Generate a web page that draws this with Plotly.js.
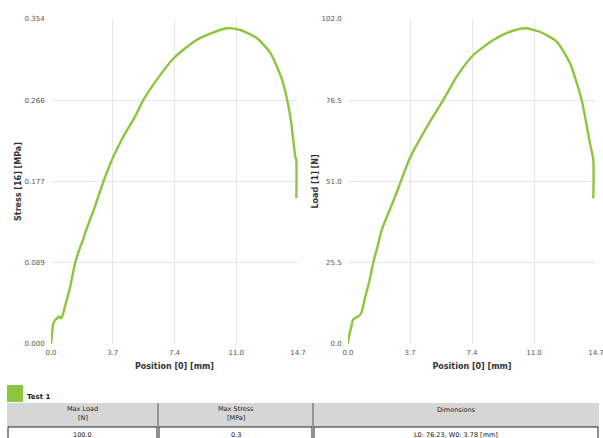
<!DOCTYPE html>
<html>
<head>
<meta charset="utf-8">
<script src="https://cdn.plot.ly/plotly-3.0.1.min.js"></script>
<style>
  html, body { margin: 0; padding: 0; background: #ffffff; }
  #chart { width: 603px; height: 438px; }
</style>
</head>
<body>
<div id="chart"></div>
<script>
// Stress vs. position (test 1)
const positionStress = [0, 0.06, 0.12, 0.24, 0.36, 0.48, 0.60, 0.72, 0.83, 1.13, 1.43, 1.73, 1.92, 2.03, 2.62, 3.12, 3.71, 4.31, 5.01, 5.50, 6.30, 7.29, 8.48, 9.47, 10.47, 11.26, 12.26, 13.05, 13.75, 14.24, 14.54, 14.60, 14.60];
const stressMPa = [0, 0.011, 0.021, 0.026, 0.028, 0.030, 0.028, 0.033, 0.041, 0.061, 0.088, 0.105, 0.114, 0.121, 0.150, 0.177, 0.204, 0.226, 0.248, 0.266, 0.288, 0.311, 0.329, 0.338, 0.344, 0.342, 0.333, 0.317, 0.288, 0.248, 0.204, 0.200, 0.159];

// Load vs. position (test 1)
const positionLoad = [0, 0.02, 0.22, 0.31, 0.52, 0.71, 0.81, 1.01, 1.30, 1.50, 1.80, 2.00, 2.79, 3.68, 4.66, 5.65, 6.44, 7.43, 8.61, 9.60, 10.49, 11.38, 12.37, 13.16, 13.85, 14.34, 14.54, 14.54];
const loadN = [0, 1.3, 6.0, 7.8, 8.4, 9.1, 10.1, 14.5, 20.5, 25.6, 31.6, 35.8, 46.2, 58.5, 68.0, 76.6, 83.9, 90.7, 95.4, 98.0, 99.1, 98.0, 94.9, 88.1, 76.6, 63.0, 57.8, 45.7];

// Axis ticks
const xTickVals = [0, 3.675, 7.35, 11.025, 14.7];
const xTickText = ["0.0", "3.7", "7.4", "11.0", "14.7"];
const stressTickVals = [0, 0.0885, 0.177, 0.2655, 0.354];
const stressTickText = ["0.000", "0.089", "0.177", "0.266", "0.354"];
const loadTickVals = [0, 25.5, 51.0, 76.5, 102.0];
const loadTickText = ["0.0", "25.5", "51.0", "76.5", "102.0"];

// Results table
const seriesName = "Test 1";
const tableHeaders = [["Max Load", "[N]"], ["Max Stress", "[MPa]"], ["Dimensions"]];
const tableValues = ["100.0", "0.3", "L0: 76.23, W0: 3.78 [mm]"];

const GREEN = "#8cc63f";
const W = 603, H = 438;
const M = { l: 51, r: 7, t: 19, b: 94 };
const plotW = W - M.l - M.r, plotH = H - M.t - M.b;
// pixel -> paper helpers for the table drawn below the charts
const px = x => (x - M.l) / plotW;
const py = y => (H - M.b - y) / plotH;

const curveLine = { color: GREEN, width: 2.4, shape: "spline", smoothing: 0.6 };
const traces = [
  { x: positionStress, y: stressMPa, xaxis: "x", yaxis: "y", type: "scatter", mode: "lines",
    line: curveLine, name: seriesName, hoverinfo: "skip" },
  { x: positionLoad, y: loadN, xaxis: "x2", yaxis: "y2", type: "scatter", mode: "lines",
    line: curveLine, name: seriesName, hoverinfo: "skip" }
];

const tickFont = { family: "DejaVu Sans", size: 7, color: "#555555" };
const titleFont = { family: "DejaVu Sans", size: 8, color: "#333333", weight: "bold" };

function xAxis(domain, anchor) {
  return {
    domain: domain, anchor: anchor, range: [0, 14.7],
    tickmode: "array", tickvals: xTickVals, ticktext: xTickText,
    showgrid: true, gridcolor: "#e6e6e6", gridwidth: 1, zeroline: false, showline: false,
    ticks: "outside", ticklen: 2, tickcolor: "rgba(0,0,0,0)",
    tickfont: tickFont, ticklabeloverflow: "allow",
    title: { text: "<b>Position [0] [mm]</b>", font: titleFont, standoff: 6 }
  };
}
function yAxis(range, vals, text, title, anchor) {
  return {
    range: range, anchor: anchor,
    tickmode: "array", tickvals: vals, ticktext: text,
    showgrid: true, gridcolor: "#e6e6e6", gridwidth: 1, zeroline: false, showline: false,
    ticks: "outside", ticklen: 4, tickcolor: "rgba(0,0,0,0)",
    tickfont: tickFont, ticklabeloverflow: "allow",
    title: { text: "<b>" + title + "</b>", font: titleFont, standoff: 1 }
  };
}

const shapes = [];
const annotations = [];

// legend swatch + series label
shapes.push({ type: "rect", xref: "paper", yref: "paper", x0: px(7), x1: px(23), y0: py(402), y1: py(385),
  fillcolor: GREEN, line: { width: 0 } });
annotations.push({ xref: "paper", yref: "paper", x: px(25), y: py(397), xanchor: "left", yanchor: "middle",
  text: "<b>" + seriesName + "</b>", showarrow: false, font: { family: "DejaVu Sans", size: 7, color: "#222" } });

// table geometry
const colEdges = [7, 158, 313, 599];
const headTop = 403, headBot = 427, rowBot = 447;
shapes.push({ type: "rect", xref: "paper", yref: "paper", x0: px(colEdges[0]), x1: px(colEdges[3]),
  y0: py(headBot), y1: py(headTop), fillcolor: "#d6d6d6", line: { width: 0 } });
for (let i = 0; i < 3; i++) {
  // data cells with dark borders
  shapes.push({ type: "rect", xref: "paper", yref: "paper", x0: px(colEdges[i] + 1), x1: px(colEdges[i + 1] - 1),
    y0: py(rowBot), y1: py(headBot), fillcolor: "#ffffff", line: { color: "#222222", width: 1 } });
  const cx = px((colEdges[i] + colEdges[i + 1]) / 2);
  const head = tableHeaders[i];
  head.forEach((t, k) => {
    annotations.push({ xref: "paper", yref: "paper", x: cx, y: py(head.length > 1 ? 409 + k * 9 : 410),
      xanchor: "center", yanchor: "middle", text: t, showarrow: false,
      font: { family: "DejaVu Sans", size: 6.5, color: "#222" } });
  });
  annotations.push({ xref: "paper", yref: "paper", x: cx, y: py(435), xanchor: "center", yanchor: "middle",
    text: tableValues[i], showarrow: false, font: { family: "DejaVu Sans", size: 6.5, color: "#111" } });
}
// header column separators
[158, 313].forEach(x => shapes.push({ type: "line", xref: "paper", yref: "paper", x0: px(x), x1: px(x),
  y0: py(headBot), y1: py(headTop), line: { color: "#555555", width: 1 } }));

const layout = {
  width: W, height: H, margin: M, showlegend: false,
  paper_bgcolor: "#ffffff", plot_bgcolor: "#ffffff",
  xaxis: xAxis([0, (298 - M.l) / plotW], "y"),
  yaxis: yAxis([0, 0.354], stressTickVals, stressTickText, "Stress [16] [MPa]", "x"),
  xaxis2: xAxis([(348 - M.l) / plotW, 1], "y2"),
  yaxis2: yAxis([0, 102], loadTickVals, loadTickText, "Load [1] [N]", "x2"),
  shapes: shapes, annotations: annotations
};

Plotly.newPlot("chart", traces, layout, { displayModeBar: false, staticPlot: true });
</script>
</body>
</html>
